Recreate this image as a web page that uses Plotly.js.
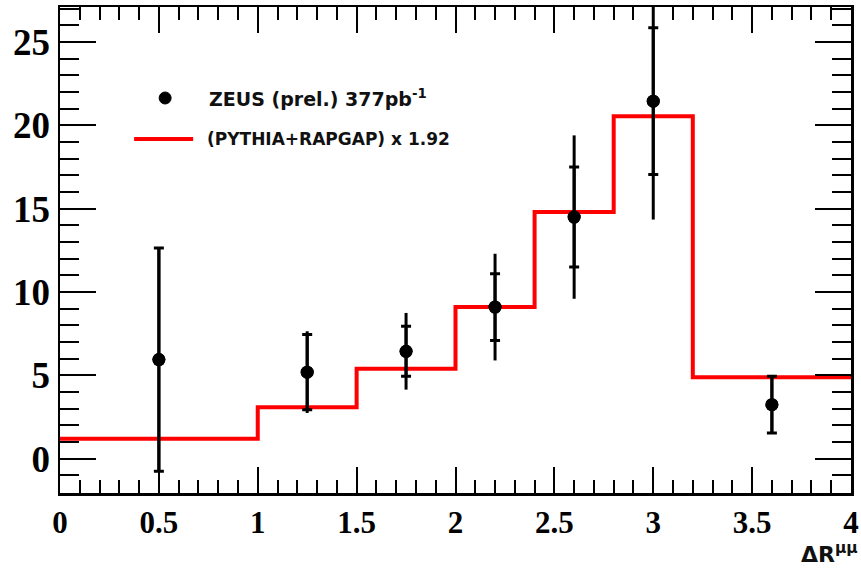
<!DOCTYPE html>
<html>
<head>
<meta charset="utf-8">
<script src="https://cdn.plot.ly/plotly-3.0.1.min.js"></script>
<style>html,body{margin:0;padding:0;background:#fff;}#chart{width:861px;height:569px;}</style>
</head>
<body>
<div id="chart"></div>
<script>
// Data points (ZEUS prel.)
const dataX = [0.5, 1.25, 1.75, 2.2, 2.6, 3.0, 3.6];
const dataY = [5.95, 5.2, 6.45, 9.1, 14.5, 21.45, 3.25];
const statErr = [6.7, 2.25, 1.5, 2.0, 3.0, 4.4, 1.7];
const totErr = [6.7, 2.45, 2.3, 3.2, 4.9, 7.1, 1.7];

// MC histogram (PYTHIA+RAPGAP) x 1.92
const binEdges = [0, 1, 1.5, 2, 2.4, 2.8, 3.2, 4];
const mcValues = [1.2, 3.1, 5.4, 9.1, 14.8, 20.55, 4.9];

const xTicks = [0, 0.5, 1, 1.5, 2, 2.5, 3, 3.5, 4];
const xTickText = ['0', '0.5', '1', '1.5', '2', '2.5', '3', '3.5', '4'];
const yTicks = [0, 5, 10, 15, 20, 25];

const stepY = mcValues.concat([mcValues[mcValues.length - 1]]);

const traces = [
  {
    x: binEdges, y: stepY, type: 'scatter', mode: 'lines',
    line: {shape: 'hv', color: '#ff0000', width: 4},
    showlegend: false, hoverinfo: 'skip'
  },
  {
    x: dataX, y: dataY, type: 'scatter', mode: 'markers',
    marker: {color: '#000', size: 13},
    error_y: {type: 'data', array: totErr, visible: true, color: '#000', thickness: 3, width: 0},
    showlegend: false
  },
  {
    x: dataX, y: dataY, type: 'scatter', mode: 'markers',
    marker: {color: '#000', size: 13},
    error_y: {type: 'data', array: statErr, visible: true, color: '#000', thickness: 3, width: 5},
    showlegend: false
  }
];

const layout = {
  width: 861, height: 569,
  margin: {l: 60, r: 10, t: 7, b: 76},
  paper_bgcolor: '#fff', plot_bgcolor: '#fff',
  showlegend: false,
  xaxis: {
    range: [0, 4], tickvals: xTicks, ticktext: xTickText,
    ticks: 'inside', ticklen: 26, tickwidth: 2, tickcolor: '#000',
    minor: {dtick: 0.1, ticks: 'inside', ticklen: 13, tickwidth: 2, tickcolor: '#000'},
    showline: true, linecolor: '#000', linewidth: 2.5, mirror: 'ticks',
    showgrid: false, zeroline: false,
    tickfont: {family: 'Liberation Serif', size: 31, color: '#000', weight: 'bold'}
  },
  yaxis: {
    range: [-2.05, 27.1], tickvals: yTicks,
    ticks: 'inside', ticklen: 36, tickwidth: 2, tickcolor: '#000',
    minor: {dtick: 1, ticks: 'inside', ticklen: 19, tickwidth: 2, tickcolor: '#000'},
    showline: true, linecolor: '#000', linewidth: 2.5, mirror: 'ticks',
    showgrid: false, zeroline: false,
    ticklabelstandoff: 0,
    tickfont: {family: 'Liberation Serif', size: 37, color: '#000', weight: 'bold'}
  },
  shapes: [
    {type: 'circle', xref: 'paper', yref: 'paper',
     x0: (159 - 60) / 790, x1: (171 - 60) / 790,
     y0: (493 - 104) / 486, y1: (493 - 92) / 486,
     fillcolor: '#000', line: {color: '#000', width: 1}},
    {type: 'line', xref: 'paper', yref: 'paper',
     x0: (134 - 60) / 790, x1: (193 - 60) / 790,
     y0: (493 - 139) / 486, y1: (493 - 139) / 486,
     line: {color: '#ff0000', width: 4}}
  ],
  annotations: [
    {xref: 'paper', yref: 'paper', x: (207 - 60) / 790, y: (493 - 98) / 486,
     xanchor: 'left', yanchor: 'middle', showarrow: false,
     text: 'ZEUS (prel.) 377pb<sup>-1</sup>',
     font: {family: 'DejaVu Sans', size: 19, color: '#111', weight: 'bold'}},
    {xref: 'paper', yref: 'paper', x: (205 - 60) / 790, y: (493 - 139) / 486,
     xanchor: 'left', yanchor: 'middle', showarrow: false,
     text: '(PYTHIA+RAPGAP) x 1.92',
     font: {family: 'DejaVu Sans', size: 17, color: '#111', weight: 'bold'}},
    {xref: 'paper', yref: 'paper', x: (859 - 60) / 790, y: (493 - 553) / 486,
     xanchor: 'right', yanchor: 'middle', showarrow: false,
     text: 'ΔR<sup>μμ</sup>',
     font: {family: 'DejaVu Sans', size: 22, color: '#111', weight: 'bold'}}
  ]
};

Plotly.newPlot('chart', traces, layout, {displayModeBar: false, staticPlot: true});
</script>
</body>
</html>
